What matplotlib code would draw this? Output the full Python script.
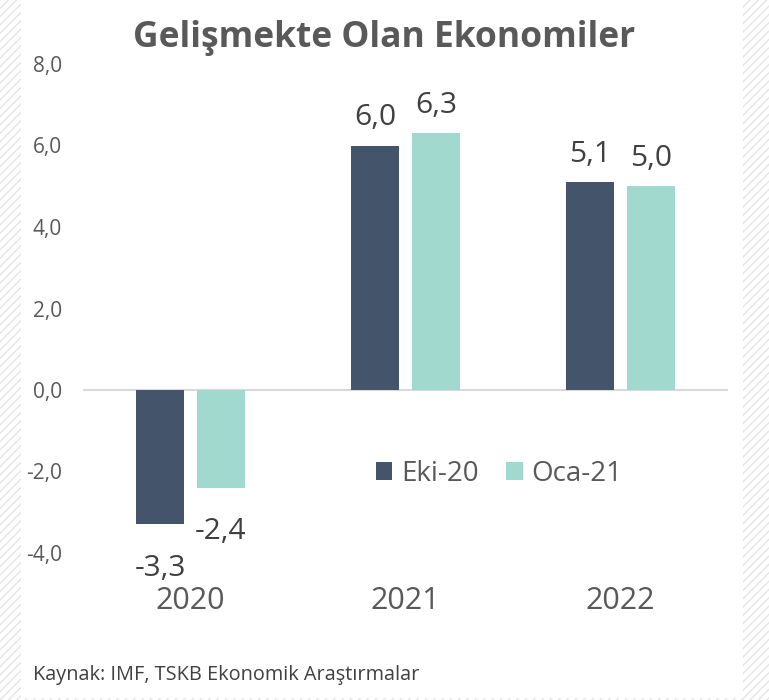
import matplotlib
matplotlib.use("Agg")
import matplotlib.pyplot as plt
from matplotlib.patches import Rectangle
import numpy as np

plt.rcParams['font.family'] = ['Open Sans', 'DejaVu Sans']

categories = ['2020', '2021', '2022']
eki20 = [-3.3, 6.0, 5.1]
oca21 = [-2.4, 6.3, 5.0]
series_names = ['Eki-20', 'Oca-21']
yticks = [-4, -2, 0, 2, 4, 6, 8]

dark = '#44546A'
light = '#A2D9CE'
txt = '#595959'

fig = plt.figure(figsize=(7.69, 7.0), dpi=100)
# hatched background
bg = Rectangle((0, 0), 1, 1, transform=fig.transFigure, facecolor='white',
               edgecolor='#e4e4e4', hatch='////', linewidth=0, zorder=-10)
fig.patches.append(bg)
panel = Rectangle((21/769, 2/700), (743-21)/769, 698/700, transform=fig.transFigure,
                  facecolor='white', edgecolor='none', zorder=-9)
fig.patches.append(panel)

top_px, bot_px = 64, 553
ax = fig.add_axes([83/769, 1-bot_px/700, (728-83)/769, (bot_px-top_px)/700])
ax.set_facecolor('none')
x = np.arange(len(categories))
w = 0.223
off = (w + 0.06) / 2
b1 = ax.bar(x - off, eki20, w, color=dark, label=series_names[0], zorder=3)
b2 = ax.bar(x + off, oca21, w, color=light, label=series_names[1], zorder=3)

ax.set_xlim(-0.5, 2.5)
ax.set_ylim(-4, 8)
ax.axhline(0, color='#D9D9D9', lw=1.5, zorder=2)
for s in ax.spines.values():
    s.set_visible(False)
ax.set_yticks(yticks)
ax.set_yticklabels([f"{v:.1f}".replace('.', ',') for v in yticks])
ax.tick_params(axis='y', length=0, labelsize=15, labelcolor=txt, pad=15)
ax.set_xticks(x)
ax.set_xticklabels(categories)
ax.tick_params(axis='x', length=0, labelsize=22, labelcolor=txt, pad=24)

for bars, vals in ((b1, eki20), (b2, oca21)):
    for r, v in zip(bars, vals):
        lab = f"{v:.1f}".replace('.', ',')
        cx = r.get_x() + r.get_width() / 2
        dy = 14.5 if v >= 0 else -37
        ax.annotate(lab, (cx, v), xytext=(0, dy), textcoords='offset points',
                    ha='center', va='baseline', fontsize=21.5, color='#404040')

fig.text(384/769, 1-38/700, 'Gelişmekte Olan Ekonomiler', ha='center', va='center',
         fontsize=25.5, fontweight='bold', color=txt)

leg = ax.legend(loc='center', bbox_to_anchor=(499/769, 1-474/700),
                bbox_transform=fig.transFigure, ncol=2, frameon=False,
                fontsize=20, handlelength=0.6, handleheight=0.6, handletextpad=0.3,
                columnspacing=1.0)
for t in leg.get_texts():
    t.set_color(txt)

fig.text(33/769, 1-675/700, 'Kaynak: IMF, TSKB Ekonomik Araştırmalar', ha='left',
         va='center', fontsize=14.3, color='#404040')

fig.savefig('out.png', dpi=100)
